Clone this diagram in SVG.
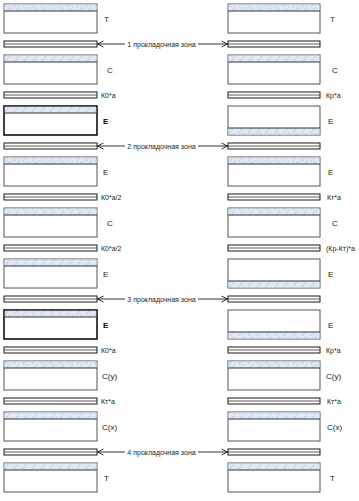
<svg xmlns="http://www.w3.org/2000/svg" width="359" height="501" viewBox="0 0 359 501">
<defs>
<pattern id="hatch" patternUnits="userSpaceOnUse" width="9" height="7" x="4" y="0">
<rect width="9" height="7" fill="#dde7f6"/>
<line x1="1" y1="7" x2="6" y2="0" stroke="#9fb3d3" stroke-width="0.7" stroke-dasharray="2 1"/>
</pattern>
<marker id="arr" markerWidth="8" markerHeight="8" refX="7" refY="4" orient="auto" markerUnits="userSpaceOnUse">
<path d="M1,1 L7,4 L1,7" fill="none" stroke="#000" stroke-width="0.8"/>
</marker>
<style>
.box{fill:#fff;stroke:#555;stroke-width:1}
.bold{fill:#fff;stroke:#000;stroke-width:1.5}
.hatch{fill:url(#hatch);stroke:none}
.sep{stroke:#333;stroke-width:1}
.bar{fill:#fff;stroke:#000;stroke-width:0.9}
.mid{stroke:#333;stroke-width:0.8}
.lbl{font-family:"Liberation Sans",Arial,sans-serif;font-size:7px;fill:#222}
.big{font-family:"Liberation Sans",Arial,sans-serif;font-size:8px;fill:#222}
.b{font-weight:bold;fill:#000}
.conn{stroke:#000;stroke-width:0.8;fill:none}
</style>
</defs>

<!-- Left column -->
<g id="L0"><rect class="box" x="4" y="4" width="93" height="29"/><rect class="hatch" x="4.5" y="4.5" width="92" height="6.5"/><line class="sep" x1="4" y1="11" x2="97" y2="11"/><text class="big" x="104" y="22">T</text></g>
<g id="LB0"><rect class="bar" x="4" y="41" width="93" height="6"/><line class="mid" x1="4" y1="44" x2="97" y2="44"/></g>
<g id="L1"><rect class="box" x="4" y="55" width="93" height="29"/><rect class="hatch" x="4.5" y="55.5" width="92" height="6.5"/><line class="sep" x1="4" y1="62" x2="97" y2="62"/><text class="big" x="107" y="73">C</text></g>
<g id="LB1"><rect class="bar" x="4" y="92" width="93" height="6"/><line class="mid" x1="4" y1="95" x2="97" y2="95"/><text class="lbl" x="101" y="97.5">К0*а</text></g>
<g id="L2"><rect class="bold" x="4" y="106" width="93" height="29"/><rect class="hatch" x="4.8" y="106.8" width="91.4" height="6.2"/><line class="sep" x1="4" y1="113" x2="97" y2="113"/><text class="big b" x="103" y="124">E</text></g>
<g id="LB2"><rect class="bar" x="4" y="143" width="93" height="6"/><line class="mid" x1="4" y1="146" x2="97" y2="146"/></g>
<g id="L3"><rect class="box" x="4" y="157" width="93" height="29"/><rect class="hatch" x="4.5" y="157.5" width="92" height="6.5"/><line class="sep" x1="4" y1="164" x2="97" y2="164"/><text class="big" x="103" y="175">E</text></g>
<g id="LB3"><rect class="bar" x="4" y="194" width="93" height="6"/><line class="mid" x1="4" y1="197" x2="97" y2="197"/><text class="lbl" x="101" y="199.5">К0*а/2</text></g>
<g id="L4"><rect class="box" x="4" y="208" width="93" height="29"/><rect class="hatch" x="4.5" y="208.5" width="92" height="6.5"/><line class="sep" x1="4" y1="215" x2="97" y2="215"/><text class="big" x="107" y="226">C</text></g>
<g id="LB4"><rect class="bar" x="4" y="245" width="93" height="6"/><line class="mid" x1="4" y1="248" x2="97" y2="248"/><text class="lbl" x="101" y="250.5">К0*а/2</text></g>
<g id="L5"><rect class="box" x="4" y="259" width="93" height="29"/><rect class="hatch" x="4.5" y="259.5" width="92" height="6.5"/><line class="sep" x1="4" y1="266" x2="97" y2="266"/><text class="big" x="103" y="277">E</text></g>
<g id="LB5"><rect class="bar" x="4" y="296" width="93" height="6"/><line class="mid" x1="4" y1="299" x2="97" y2="299"/></g>
<g id="L6"><rect class="bold" x="4" y="310" width="93" height="29"/><rect class="hatch" x="4.8" y="310.8" width="91.4" height="6.2"/><line class="sep" x1="4" y1="317" x2="97" y2="317"/><text class="big b" x="103" y="328">E</text></g>
<g id="LB6"><rect class="bar" x="4" y="347" width="93" height="6"/><line class="mid" x1="4" y1="350" x2="97" y2="350"/><text class="lbl" x="101" y="352.5">К0*а</text></g>
<g id="L7"><rect class="box" x="4" y="361" width="93" height="29"/><rect class="hatch" x="4.5" y="361.5" width="92" height="6.5"/><line class="sep" x1="4" y1="368" x2="97" y2="368"/><text class="big" x="102" y="379">C(y)</text></g>
<g id="LB7"><rect class="bar" x="4" y="398" width="93" height="6"/><line class="mid" x1="4" y1="401" x2="97" y2="401"/><text class="lbl" x="101" y="403.5">Кт*а</text></g>
<g id="L8"><rect class="box" x="4" y="412" width="93" height="29"/><rect class="hatch" x="4.5" y="412.5" width="92" height="6.5"/><line class="sep" x1="4" y1="419" x2="97" y2="419"/><text class="big" x="102" y="430">C(x)</text></g>
<g id="LB8"><rect class="bar" x="4" y="449" width="93" height="6"/><line class="mid" x1="4" y1="452" x2="97" y2="452"/></g>
<g id="L9"><rect class="box" x="4" y="463" width="93" height="29"/><rect class="hatch" x="4.5" y="463.5" width="92" height="6.5"/><line class="sep" x1="4" y1="470" x2="97" y2="470"/><text class="big" x="104" y="481">T</text></g>

<!-- Right column -->
<g id="R0"><rect class="box" x="228" y="4" width="92" height="29"/><rect class="hatch" x="228.5" y="4.5" width="91" height="6.5"/><line class="sep" x1="228" y1="11" x2="320" y2="11"/><text class="big" x="330" y="22">T</text></g>
<g id="RB0"><rect class="bar" x="228" y="41" width="92" height="6"/><line class="mid" x1="228" y1="44" x2="320" y2="44"/></g>
<g id="R1"><rect class="box" x="228" y="55" width="92" height="29"/><rect class="hatch" x="228.5" y="55.5" width="91" height="6.5"/><line class="sep" x1="228" y1="62" x2="320" y2="62"/><text class="big" x="332" y="73">C</text></g>
<g id="RB1"><rect class="bar" x="228" y="92" width="92" height="6"/><line class="mid" x1="228" y1="95" x2="320" y2="95"/><text class="lbl" x="326" y="97.5">Кр*а</text></g>
<g id="R2"><rect class="box" x="228" y="106" width="92" height="29"/><rect class="hatch" x="228.5" y="128" width="91" height="6.5"/><line class="sep" x1="228" y1="128" x2="320" y2="128"/><text class="big" x="328" y="124">E</text></g>
<g id="RB2"><rect class="bar" x="228" y="143" width="92" height="6"/><line class="mid" x1="228" y1="146" x2="320" y2="146"/></g>
<g id="R3"><rect class="box" x="228" y="157" width="92" height="29"/><rect class="hatch" x="228.5" y="157.5" width="91" height="6.5"/><line class="sep" x1="228" y1="164" x2="320" y2="164"/><text class="big" x="328" y="175">E</text></g>
<g id="RB3"><rect class="bar" x="228" y="194" width="92" height="6"/><line class="mid" x1="228" y1="197" x2="320" y2="197"/><text class="lbl" x="327" y="199.5">Кт*а</text></g>
<g id="R4"><rect class="box" x="228" y="208" width="92" height="29"/><rect class="hatch" x="228.5" y="208.5" width="91" height="6.5"/><line class="sep" x1="228" y1="215" x2="320" y2="215"/><text class="big" x="332" y="226">C</text></g>
<g id="RB4"><rect class="bar" x="228" y="245" width="92" height="6"/><line class="mid" x1="228" y1="248" x2="320" y2="248"/><text class="lbl" x="326" y="250.5">(Кр-Кт)*а</text></g>
<g id="R5"><rect class="box" x="228" y="259" width="92" height="29"/><rect class="hatch" x="228.5" y="281" width="91" height="6.5"/><line class="sep" x1="228" y1="281" x2="320" y2="281"/><text class="big" x="328" y="277">E</text></g>
<g id="RB5"><rect class="bar" x="228" y="296" width="92" height="6"/><line class="mid" x1="228" y1="299" x2="320" y2="299"/></g>
<g id="R6"><rect class="box" x="228" y="310" width="92" height="29"/><rect class="hatch" x="228.5" y="332" width="91" height="6.5"/><line class="sep" x1="228" y1="332" x2="320" y2="332"/><text class="big" x="328" y="328">E</text></g>
<g id="RB6"><rect class="bar" x="228" y="347" width="92" height="6"/><line class="mid" x1="228" y1="350" x2="320" y2="350"/><text class="lbl" x="326" y="352.5">Кр*а</text></g>
<g id="R7"><rect class="box" x="228" y="361" width="92" height="29"/><rect class="hatch" x="228.5" y="361.5" width="91" height="6.5"/><line class="sep" x1="228" y1="368" x2="320" y2="368"/><text class="big" x="326" y="379">C(y)</text></g>
<g id="RB7"><rect class="bar" x="228" y="398" width="92" height="6"/><line class="mid" x1="228" y1="401" x2="320" y2="401"/><text class="lbl" x="327" y="403.5">Кт*а</text></g>
<g id="R8"><rect class="box" x="228" y="412" width="92" height="29"/><rect class="hatch" x="228.5" y="412.5" width="91" height="6.5"/><line class="sep" x1="228" y1="419" x2="320" y2="419"/><text class="big" x="327" y="430">C(x)</text></g>
<g id="RB8"><rect class="bar" x="228" y="449" width="92" height="6"/><line class="mid" x1="228" y1="452" x2="320" y2="452"/></g>
<g id="R9"><rect class="box" x="228" y="463" width="92" height="29"/><rect class="hatch" x="228.5" y="463.5" width="91" height="6.5"/><line class="sep" x1="228" y1="470" x2="320" y2="470"/><text class="big" x="330" y="481">T</text></g>

<!-- Zone labels and connectors -->
<g id="connectors">
<line class="conn" x1="125" y1="44" x2="97.5" y2="44" marker-end="url(#arr)"/>
<line class="conn" x1="198" y1="44" x2="227.5" y2="44" marker-end="url(#arr)"/>
<line class="conn" x1="125" y1="146" x2="97.5" y2="146" marker-end="url(#arr)"/>
<line class="conn" x1="198" y1="146" x2="227.5" y2="146" marker-end="url(#arr)"/>
<line class="conn" x1="125" y1="299" x2="97.5" y2="299" marker-end="url(#arr)"/>
<line class="conn" x1="198" y1="299" x2="227.5" y2="299" marker-end="url(#arr)"/>
<line class="conn" x1="125" y1="452" x2="97.5" y2="452" marker-end="url(#arr)"/>
<line class="conn" x1="198" y1="452" x2="227.5" y2="452" marker-end="url(#arr)"/>
</g>
<g id="zones">
<text class="lbl" x="161.5" y="46.5" text-anchor="middle">1 прокладочная зона</text>
<text class="lbl" x="161.5" y="148.5" text-anchor="middle">2 прокладочная зона</text>
<text class="lbl" x="161.5" y="301.5" text-anchor="middle">3 прокладочная зона</text>
<text class="lbl" x="161.5" y="454.5" text-anchor="middle">4 прокладочная зона</text>
</g>
</svg>
